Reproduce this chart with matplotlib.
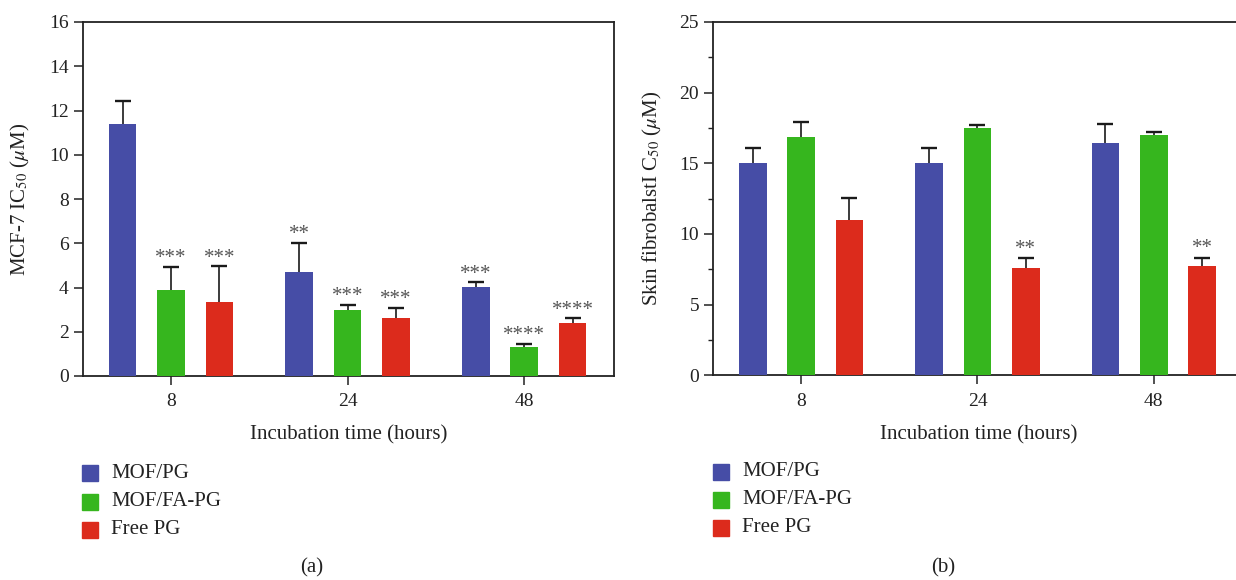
import matplotlib
matplotlib.use('Agg')
import matplotlib.pyplot as plt
import numpy as np
from matplotlib.patches import Rectangle
from matplotlib.ticker import MultipleLocator

plt.rcParams['font.family'] = ['Liberation Serif', 'DejaVu Serif']
plt.rcParams['mathtext.fontset'] = 'stix'

# dados
tempos = ['8', '24', '48']
grupos = ['MOF/PG', 'MOF/FA-PG', 'Free PG']
cores = ['#464DA6', '#36B61E', '#DC2B1C']

# (a) MCF-7
mcf_media = [[11.4, 4.7, 4.03],
             [3.9, 3.0, 1.32],
             [3.35, 2.62, 2.4]]
mcf_erro = [[1.05, 1.32, 0.2],
            [1.03, 0.2, 0.12],
            [1.6, 0.46, 0.2]]
mcf_sig = [['', '**', '***'],
           ['***', '***', '****'],
           ['***', '***', '****']]

# (b) fibroblastos
fib_media = [[15.0, 15.0, 16.44],
             [16.86, 17.5, 17.0],
             [10.98, 7.6, 7.74]]
fib_erro = [[1.1, 1.1, 1.32],
            [1.05, 0.24, 0.24],
            [1.58, 0.68, 0.58]]
fib_sig = [['', '', ''],
           ['', '', ''],
           ['', '**', '**']]

W, H = 1236, 580
fig = plt.figure(figsize=(W / 100, H / 100), dpi=100)
ax1 = fig.add_axes([82.7 / W, 1 - 376 / H, 531.6 / W, 354 / H])
ax2 = fig.add_axes([713 / W, 1 - 375.3 / H, 530.7 / W, 353.3 / H])

desloc = 0.274
largura = 0.157
x = np.arange(len(tempos))


def desenha(ax, medias, erros, sig, ymax, gap):
    for i in range(3):
        xi = x + (i - 1) * desloc
        topo = np.array(medias[i]) + np.array(erros[i])
        ax.bar(xi, medias[i], width=largura, color=cores[i], zorder=3)
        # so a metade de cima da barra de erro
        ax.errorbar(xi, medias[i], yerr=[np.zeros(3), erros[i]], fmt='none',
                    ecolor='#1a1a1a', elinewidth=1.2, capsize=0, zorder=2)
        ax.plot(xi, topo, ls='none', marker='_', ms=11.6, mew=1.7,
                color='#1a1a1a', zorder=2)
        for j in range(3):
            if sig[i][j]:
                ax.text(xi[j], topo[j] + gap, sig[i][j],
                        ha='center', va='bottom', fontsize=15, color='#555555')
    ax.set_ylim(0, ymax)
    ax.set_xlim(-0.5, 2.51)
    ax.set_xticks(x)
    ax.set_xticklabels(tempos)
    ax.set_xlabel('Incubation time (hours)', fontsize=15, color='#222222', labelpad=11)
    ax.tick_params(axis='both', direction='out', length=6.5, width=1.1,
                   labelsize=14, colors='#222222')
    ax.tick_params(axis='x', pad=6)
    for s in ax.spines.values():
        s.set_linewidth(1.3)
        s.set_color('#222222')


desenha(ax1, mcf_media, mcf_erro, mcf_sig, 16, -0.05)
ax1.set_yticks(range(0, 17, 2))
ax1.set_ylabel('MCF-7 IC$_{50}$ ($\\mu$M)', fontsize=15, color='#222222', labelpad=12)

desenha(ax2, fib_media, fib_erro, fib_sig, 25, -0.05)
ax2.set_yticks(range(0, 26, 5))
ax2.yaxis.set_minor_locator(MultipleLocator(2.5))
ax2.tick_params(axis='y', which='minor', direction='out', length=3.5, width=1.0,
                colors='#222222')
ax2.set_ylabel('Skin fibrobalstI C$_{50}$ ($\\mu$M)', fontsize=15, color='#222222',
               labelpad=11)

# legendas
for x0, yl in [(82, [473, 502, 530]), (713, [472, 500, 528])]:
    for i in range(3):
        fig.patches.append(Rectangle((x0 / W, 1 - (yl[i] + 8) / H), 16 / W, 16 / H,
                                     transform=fig.transFigure, color=cores[i]))
        fig.text((x0 + 29) / W, 1 - yl[i] / H, grupos[i], fontsize=15,
                 va='center', ha='left', color='#222222')

fig.text(312 / W, 1 - 568 / H, '(a)', fontsize=15, ha='center', va='center', color='#222222')
fig.text(943 / W, 1 - 568 / H, '(b)', fontsize=15, ha='center', va='center', color='#222222')

fig.savefig('out.png', dpi=100)
